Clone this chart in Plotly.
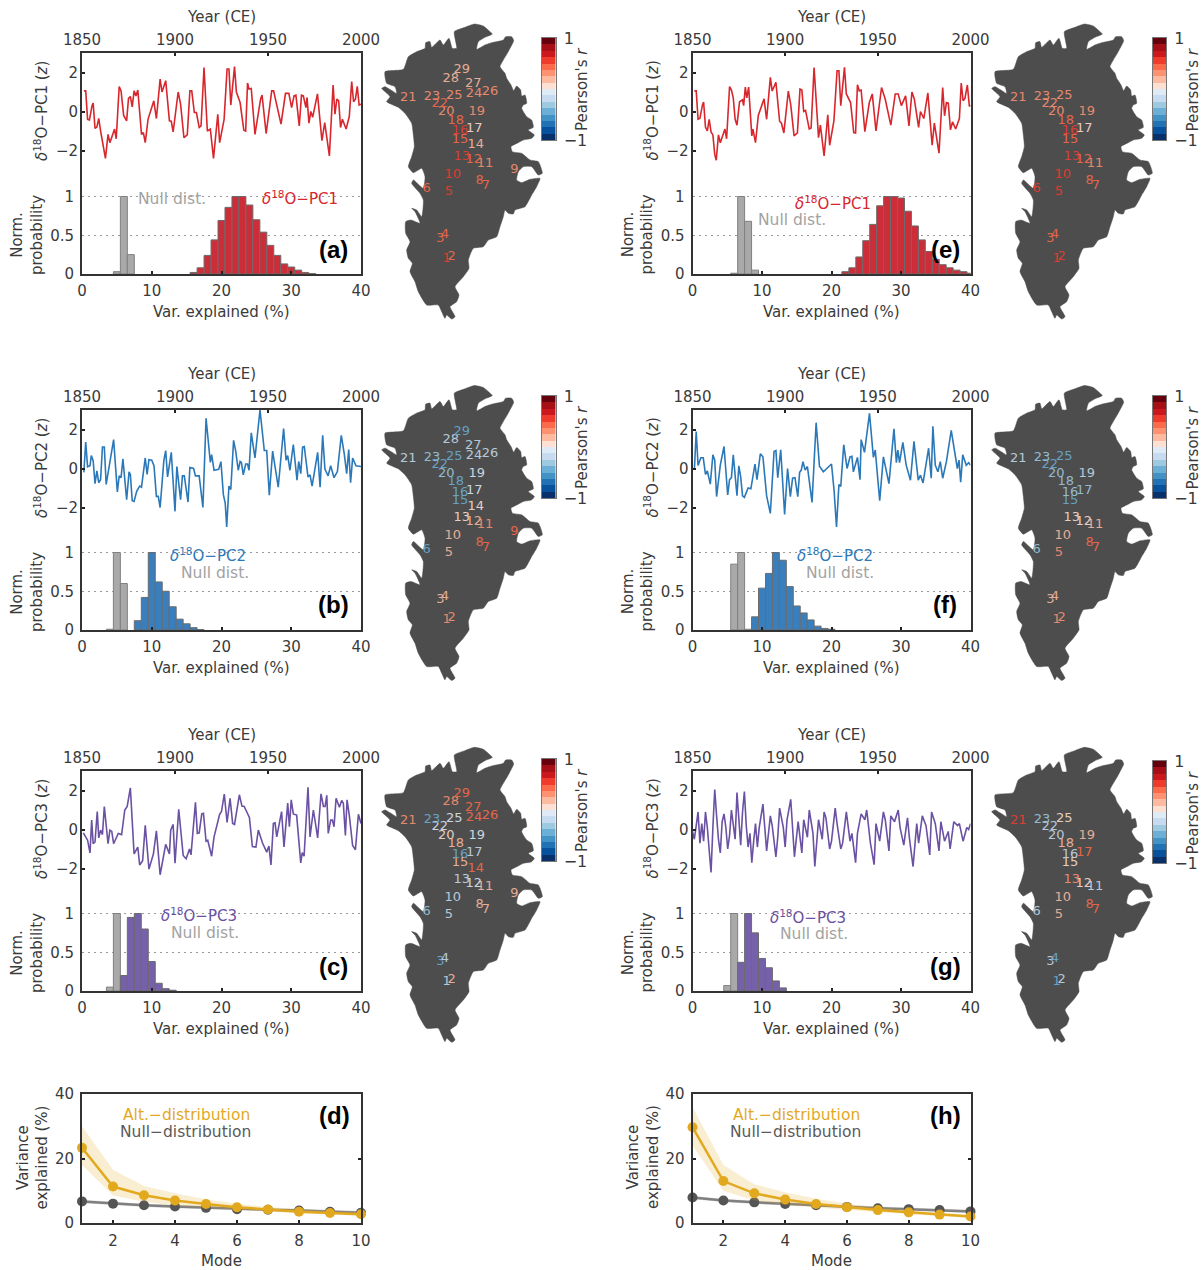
import plotly.graph_objects as go

W, H = 1202, 1270
FONT = "DejaVu Sans"
INK = "#3a3a3a"

YEARS_A = [1851,1852,1853,1854,1855.4,1856,1857,1858,1859,1860,1862.6,1864,1865,1867.5,1868.4,1870,1871,1872.4,1874,1875,1876,1877,1878,1879,1880,1882,1883,1884,1885.5,1888.6,1890,1892,1893,1895,1897,1898,1899,1901.7,1903,1904.8,1906.6,1908,1909,1910.4,1911.5,1913,1914,1915.6,1917.4,1919,1920.7,1923,1924,1926.4,1928,1929,1930,1932,1933,1935,1937,1938,1939,1939.8,1941,1943,1946,1946.8,1949,1952,1953,1954.5,1957,1959.4,1961.2,1962.7,1964,1965,1966.8,1968,1969,1970.4,1971,1972,1973,1974,1976.6,1979,1980.5,1983,1985,1986,1987,1988,1989,1990,1992,1993.7,1995,1996,1997,1998,1999,2000]
Z_A = [1.06,1.06,-.4,-.43,.3,.43,-.87,-.8,-.35,-1.0,-2.4,-1.17,-1.6,-.9,-1.4,1.28,1.05,-.2,-.48,.67,.77,.24,1.06,.8,1.1,-1.17,-1.08,-1.6,-.4,.55,-.36,1.66,1.0,1.58,-.48,-.5,-1.05,1.0,.38,-1.34,-1.2,1.06,1.06,-.05,-.05,-.82,-.74,2.26,-1.0,-.9,-2.4,-.14,-1.6,-.4,2.18,2.18,.33,2.3,1.0,.46,-.96,-1.0,1.46,1.15,1.18,-1.17,.63,.84,-1.13,1.06,1.06,.46,-.65,.93,.93,.2,.8,.84,-.74,.84,.8,.2,.72,-.6,0,-.3,.9,-1.5,-.57,-2.28,1.36,-.14,.63,.55,-.82,-.4,-.9,-.26,1.53,.5,.63,1.29,.33,.38]

YEARS_B = [1851,1852,1853,1854.3,1855,1856,1857,1858,1859,1860,1861,1862,1863,1865.4,1867,1869,1870,1871,1872,1874,1875.3,1876,1877,1878,1879.4,1881,1882,1884,1885,1886,1887.5,1888.7,1890,1891,1892,1894,1895,1896,1898,1900,1901,1903,1904,1905,1907,1908,1910,1911,1913,1915,1916.7,1919,1919.7,1921,1923.5,1924.7,1926,1927,1927.8,1929,1930,1931.5,1932.6,1934,1935,1935.7,1936.7,1938,1939,1939.8,1941,1943,1945.7,1948,1949.3,1950.7,1952.5,1955.5,1958.4,1959.7,1960.6,1961.8,1963.6,1965.6,1966.5,1967.6,1968.6,1969.5,1971.5,1972.6,1973.7,1976.7,1978,1979.4,1980.6,1982.3,1983.7,1985.5,1987.3,1989.4,1990.5,1991,1992.3,1993.4,1994.4,1995.5,1997.3,2000]
Z_B = [-.2,1.36,.09,.14,.66,.4,-.78,-.12,-.73,-.56,1.1,1.1,-.82,.49,1.48,-1.2,-.38,-.47,.49,-1.6,-.17,-.3,-1.65,-1.69,-1.17,-.9,-.96,.54,-.3,.45,.43,.14,-1.43,-1.43,-2.0,.4,.92,-.43,.83,-2.2,.1,-1.6,-.38,-.38,-1.72,.05,0,-.38,-.38,-2.0,2.57,.31,.71,-.09,-.04,.35,-1.34,-1.77,-3.0,-.9,-1.08,1.44,.92,-.09,.36,.31,-.33,.23,.23,-.09,1.83,.54,3.0,.92,.92,-1.37,.89,-.96,2.05,.43,.66,-.09,1.23,-.6,.36,-.26,1.1,1.13,-.43,-.33,-.9,.83,-.96,1.7,-.03,-.38,.14,-.47,-.16,1.7,.83,.75,-.26,.97,-.73,.54,.14,.1]

YEARS_C = [1850.7,1853,1854.3,1855.2,1856,1857,1858.2,1859,1860,1861,1862,1864,1865,1866,1867,1869.5,1871.3,1873,1874.3,1876,1878,1880,1881,1882.6,1884,1886,1888.4,1890,1892,1895,1897,1897.7,1899,1900,1902,1904.4,1906,1907.8,1908.6,1911,1912,1913,1914.4,1915.3,1916.7,1917.6,1919.7,1921,1924,1925,1926.5,1928,1929.6,1931,1932,1934.6,1936,1937.2,1940,1941.6,1943.5,1944.8,1947,1949.3,1950.5,1951.6,1952.9,1953.8,1954.7,1957.3,1958.6,1960.6,1961.5,1962.5,1963.6,1965.4,1967.6,1968.4,1969.4,1971.5,1972.6,1974.4,1976.7,1978.5,1979.8,1980.7,1981.6,1982.4,1983.7,1984.6,1985.5,1986.6,1988.4,1989.6,1990.5,1991.6,1992.5,1993.7,1995.5,1997,1998.6,2000]
Z_C = [-.17,-.55,-1.2,.48,-.73,-.64,.92,-.43,-.03,-.26,1.18,-.73,-.03,-.1,-.73,-.2,-.26,1.0,1.18,2.13,-1.25,-.9,-1.82,-1.6,.22,-2.03,-1.25,-.07,-2.32,-.76,-1.25,-.03,.26,-1.73,1.04,-1.33,-1.5,-1.0,-1.3,1.4,-.2,-.17,.8,.83,-.6,-.55,-1.37,-.38,.78,.92,1.82,.36,1.6,.31,.26,1.78,1.2,1.18,.62,-.87,-.9,-.03,-.68,-1.16,-.85,-1.82,.31,.34,-.38,.92,-.9,1.35,.14,1.52,.8,.74,-1.71,-1.19,-1.37,2.16,-.38,1.0,-.43,1.83,1.18,1.18,1.75,-.2,.48,.48,.14,1.6,1.14,1.49,1.35,-.3,1.52,.74,-.82,-1.04,.78,.31]

YEARS_E = [1851,1852,1853,1854,1855.4,1856,1857,1858,1859,1860,1861,1862,1862.8,1864,1865,1867.5,1868.4,1870,1871,1872,1873,1874,1875.4,1877,1877.6,1878.5,1879.3,1880.3,1882,1882.6,1884,1885.5,1888.6,1890,1892,1893,1895,1897,1898,1899.3,1901.7,1903,1904.8,1906.6,1908,1909,1910,1911,1913,1914,1915.6,1918,1919,1921,1923,1924,1926.3,1928,1929,1930,1932,1933,1935.3,1937,1938,1939,1940,1941,1943,1945.4,1947,1949,1952,1954,1957,1959.4,1961,1962.7,1965,1966.8,1968.4,1969.7,1972,1973,1974.8,1977,1979.3,1980.5,1983,1985,1986,1987,1988,1989.2,1990.3,1992,1994,1995,1996,1997,1998.3,1999.4,2000]
Z_E = [1.06,1.06,-.4,-.35,.35,.48,-.8,-1,-.4,-1.05,-1.2,-2.2,-2.5,-1.2,-1.6,-.9,-1.4,1.28,1.1,.7,-.4,-.7,.5,.6,.3,1.25,.7,1.25,-1.25,-.9,-1.6,-.2,.65,-.4,1.75,1.05,1.5,-.5,-.6,-1.1,1.05,.35,-1.25,-1.1,1.15,1.1,0,.05,-.9,-.85,2.26,-1.34,-.7,-2.28,-.17,-1.73,-.48,2.09,2.09,.3,2.26,.9,.46,-1.08,-1.1,1.37,1.06,1.1,-1.03,.46,.9,-1,1.23,.63,-.7,.9,.9,.3,.8,-.74,1,.63,-.82,0,-.36,.95,-1.73,-.6,-2.14,1.23,-.22,.46,.43,-.94,-.53,-.9,-.36,1.46,.55,.67,1.36,.26,.33]

YEARS_F = [1851,1852,1853,1854.5,1855.8,1857,1858,1859.6,1861,1862,1863,1865,1867,1869,1870,1871,1872,1874,1875,1876,1877,1878,1880,1881.5,1883.7,1884.8,1886.6,1888,1890,1892,1894,1895,1896,1897.6,1899.7,1901.3,1902.8,1904,1905.3,1906.8,1907.8,1908.7,1909.6,1910.8,1912,1914.5,1916.7,1918.5,1920.6,1925,1926.4,1927.7,1929,1930,1931.6,1933.4,1935,1936,1936.8,1939,1940.4,1941,1942.8,1945.5,1947.6,1948.6,1951,1953,1956,1958.7,1960,1960.8,1961.7,1963.5,1965.3,1967.6,1969.5,1971.8,1973,1974.4,1977.4,1978.8,1979.7,1981,1982.4,1983.7,1985,1987,1989.6,1991.4,1992.9,1993.8,1994.7,1995.8,1997.7,1999,2000]
Z_F = [-.08,1.9,.15,.55,.55,-.3,-.12,-.8,.7,.43,-1.44,.17,1.13,-1.36,-.57,-.47,.7,-1.4,.14,-.43,-1.4,-1.48,-1,-1.04,.23,-.57,.75,.6,-1.4,-2.3,.87,.92,-.47,.96,-2.35,0,-1.44,-.5,-.47,-1.44,-.2,-.08,.35,-.08,.1,-1.74,2.35,.12,-.17,.23,-1.13,-3,-.82,-.92,1.22,0,.6,.63,-.17,.57,-.57,1.48,.83,2.83,.57,.95,-1.65,.6,-.78,2.03,.3,.95,.3,1.34,.17,-.6,1.39,-.6,-.34,-.74,1.04,-.5,2.17,.17,-.17,.35,-.5,.35,1.96,.95,0,.43,-.7,.7,.17,.3,.17]

YEARS_G = [1850,1851,1852,1853,1854,1855,1856,1857,1858,1859,1860,1861,1862,1863,1864,1865,1866,1867,1868,1869,1870,1871,1872,1873,1874,1875,1876,1877,1878,1879,1880,1881,1882,1883,1884,1885,1886,1888,1889,1890,1892,1893,1895,1896,1897,1899,1900,1901,1903,1904,1905,1907,1908,1909,1910,1912,1913,1915,1916,1918,1920,1921,1922,1924,1925,1927,1928,1930,1931,1933,1935,1936,1938,1939,1941,1943,1944,1946,1948,1949,1951,1953,1954,1956,1957,1959,1961,1962,1964,1966,1967,1969,1971,1972,1974,1976,1978,1979,1981,1983,1984,1986,1988,1989,1991,1993,1994,1996,1998,1999,2000]
Z_G = [-.1,-.5,.2,.9,-.7,.3,-.6,.9,.1,-1.2,-2.2,.1,2.05,.7,-.5,-1.2,.4,.8,.1,-1.0,-.3,1.0,.3,-.5,1.9,.6,-.8,.9,1.95,.2,-.9,-.2,-1.7,-.6,.3,-.9,.1,1.3,.2,-1.1,.7,.2,-1.4,-.4,1.1,.1,-.9,.5,1.55,.2,-1.4,.4,-.3,-1.2,.5,-.4,1.0,-.2,-1.9,.5,-.5,.9,.6,-1.0,-.6,1.1,.3,-1.0,-.7,.9,-.6,-.2,-1.7,-.2,.8,.5,1.0,-.7,-1.8,.3,-.6,.9,.5,-1.1,.7,.4,1.0,.1,-.8,.6,-.4,-1.9,.3,-.7,.7,.2,-1.3,.9,.3,-1.1,.4,-.6,-.1,-1.0,.4,.2,.3,-.6,.1,.0,.3]

BINS_NULL_A, NULL_A = [5,6,7], [.03,1.0,.25]
BINS_ALT_A = [16,17,18,19,20,21,22,23,24,25,26,27,28,29,30,31,32,33]
ALT_A = [.02,.08,.24,.44,.69,.86,1.0,1.0,.89,.70,.54,.37,.24,.13,.09,.05,.02,.005]
BINS_NULL_B, NULL_B = [4,5,6], [.01,1.0,.6]
BINS_ALT_B = [8,9,10,11,12,13,14,15,16,17]
ALT_B = [.12,.42,1.0,.62,.5,.3,.14,.08,.03,.005]
BINS_NULL_C, NULL_C = [4,5,6], [.05,1.0,.02]
BINS_ALT_C = [6,7,8,9,10,11,12,13]
ALT_C = [.2,.95,1.0,.8,.38,.1,.03,.01]
BINS_NULL_E, NULL_E = [6,7,8,9], [.01,1.0,.68,.05]
BINS_ALT_E = [22,23,24,25,26,27,28,29,30,31,32,33,34,35,36,37,38,39,40]
ALT_E = [.03,.08,.22,.43,.64,.88,1.0,1.0,.98,.81,.62,.44,.29,.19,.12,.08,.05,.03,.01]
BINS_NULL_F, NULL_F = [6,7,8], [.85,1.0,.01]
BINS_ALT_F = [9,10,11,12,13,14,15,16,17,18,19,20]
ALT_F = [.17,.54,.73,1.0,.9,.56,.31,.22,.13,.05,.02,.01]
BINS_NULL_G, NULL_G = [5,6], [.07,1.0]
BINS_ALT_G = [7,8,9,10,11,12,13]
ALT_G = [.37,1.0,.75,.42,.3,.13,.04]

MODES = [1,2,3,4,5,6,7,8,9,10]
ALT_D = [23.3,11.3,8.6,7,5.9,4.9,4.2,3.5,3.1,2.7]
ALT_D_HI = [30,16.5,11.5,9.2,7.4,6,5,4.3,3.8,3.3]
ALT_D_LO = [18,8.5,6.6,5.4,4.7,4.1,3.5,3,2.6,2.2]
NULL_D = [6.7,6.0,5.5,5.1,4.7,4.3,4.1,3.9,3.5,3.2]
ALT_H = [29.7,13,9.2,7.3,5.9,4.9,4,3.3,2.6,2]
ALT_H_HI = [36,18,12,9.5,7.5,6,5,4,3.2,2.6]
ALT_H_LO = [24,10,7,5.6,4.8,4,3.3,2.7,2.1,1.6]
NULL_H = [7.9,7.0,6.4,5.9,5.5,5.0,4.6,4.3,4.0,3.6]

MAP_X = [298,325,345,352,330,310,305,330,350,385,392,410,416,405,397,385,375,390,395,408,416,425,437,440,450,455,445,440,455,470,475,460,478,470,445,430,408,412,440,465,490,502,490,470,445,430,425,440,465,495,485,470,450,420,415,400,390,385,375,365,340,325,295,280,282,265,240,252,245,225,240,230,215,210,200,190,155,130,120,105,112,100,95,105,92,92,108,135,120,110,125,140,145,135,110,115,145,150,140,115,100,110,118,115,110,90,70,35,45,20,30,65,60,35,30,85,100,125,150,152,165,170,195,205,222,232,245,238,270,298]
MAP_Y = [12,18,35,42,52,65,88,75,68,60,50,50,62,85,100,120,140,160,175,195,212,198,210,228,225,250,255,265,290,300,322,330,345,355,360,368,380,395,400,420,425,460,465,440,440,455,480,488,478,475,500,525,560,570,582,580,570,590,620,650,660,680,685,720,745,770,800,825,845,860,890,897,885,895,875,855,855,815,785,755,730,715,690,665,640,605,600,610,575,565,570,590,540,520,490,480,505,470,445,458,440,410,380,345,310,280,262,245,230,205,200,220,200,190,155,148,110,95,85,68,65,82,60,75,55,85,85,35,22,12]

SITE_ID = list(range(1, 30))
SITE_X = [215,230,196,210,222,155,333,314,418,233,330,296,260,302,255,255,298,242,305,214,100,194,171,297,238,345,295,227,260]
SITE_Y = [715,710,655,645,515,505,498,483,450,463,430,420,410,375,358,333,327,302,276,276,232,251,230,222,226,216,192,175,150]

R_A = [.5,.45,.42,.42,.6,.45,.42,.45,.35,.6,.3,.45,.5,.13,.4,.5,.1,.45,.3,.35,.3,.4,.35,.25,.3,.3,.2,.18,.18]
R_B = [.35,.35,.2,.2,.2,-.4,.42,.4,.45,.22,.3,.15,.1,.1,-.4,-.4,-.1,-.4,-.1,-.35,-.2,-.4,-.35,-.15,-.4,-.15,-.2,-.15,-.4]
R_C = [-.15,.15,-.4,-.15,-.15,-.35,.2,.2,.2,-.15,.15,-.1,-.15,.4,.2,-.4,-.2,.2,-.1,.1,.32,-.1,-.4,.42,-.1,.42,.42,.35,.42]
R_E = {1:.5,2:.5,3:.42,4:.42,5:.6,6:.5,7:.45,8:.45,10:.6,11:.3,12:.45,13:.5,15:.4,16:.5,17:.1,18:.4,19:.25,20:.3,21:.3,22:.35,23:.35,25:.3}
R_F = {1:.35,2:.35,3:.2,4:.2,5:.35,6:-.35,7:.42,8:.38,10:.22,11:.15,12:.1,13:.1,15:-.4,16:-.35,17:-.35,18:-.35,19:-.2,20:-.35,21:-.2,22:-.4,23:-.35,25:-.4}
R_G = {1:-.4,2:-.15,3:-.2,4:-.4,5:.2,6:-.2,7:.4,8:.38,10:.2,11:-.15,12:.1,13:.35,15:.1,16:-.15,17:.4,18:.2,19:.2,20:-.15,21:.52,22:-.2,23:-.35,25:.1}

R_PALETTE = ["#08306b","#08519c","#2171b5","#4292c6","#6baed6","#9ecae1","#c6dbef","#deebf7",
             "#fee0d2","#fcbba1","#fc9272","#fb6a4a","#ef3b2c","#cb181d","#a50f15","#67000d"]
R_LEVELS = [-.9375,-.8125,-.6875,-.5625,-.4375,-.3125,-.1875,-.0625,.0625,.1875,.3125,.4375,.5625,.6875,.8125,.9375]

RED, BLUE, PURPLE = "#d8262d", "#2b78b8", "#6a51a3"
RED_F, BLUE_F, PURPLE_F = "#cc2d38", "#3a7fbd", "#7660ab"
GOLD = "#e2a91f"

fig = go.Figure()
layout = dict(template="none", width=W, height=H, margin=dict(l=0, r=0, t=0, b=0, pad=0), autosize=False,
              paper_bgcolor="white", plot_bgcolor="rgba(0,0,0,0)", showlegend=False,
              barmode="overlay", font=dict(family=FONT, size=15, color=INK))
annots = []
_n = [0]

def new_axes():
    _n[0] += 1
    n = _n[0]
    return ("x" if n == 1 else f"x{n}"), ("y" if n == 1 else f"y{n}"), ("xaxis" if n == 1 else f"xaxis{n}"), ("yaxis" if n == 1 else f"yaxis{n}")

def domx(a, b):
    return [a / W, b / W]

def domy(top, bottom):
    return [1 - bottom / H, 1 - top / H]

def note(px, py, text, size=15, color=INK, angle=0, family=FONT):
    annots.append(dict(x=px / W, y=1 - py / H, xref="paper", yref="paper", text=text, showarrow=False,
                       textangle=angle, xanchor="center", yanchor="middle",
                       font=dict(size=size, color=color, family=family)))

def site_colour(r):
    i = min(15, max(0, int((r + 1) * 8)))
    c = R_PALETTE[i]
    rgb = [int(c[k:k + 2], 16) for k in (1, 3, 5)]
    return "rgb(%d,%d,%d)" % tuple(round(v * .87 + 77 * .13) for v in rgb)

def panel(x0, x1, top, bottom, years, zs, line_col, bins_null, null, bins_alt, alt, alt_fill,
          pc_name, letter, pc_lab, null_lab, letter_pos):
    xh, yh, xn, yn = new_axes()
    fig.add_trace(go.Bar(x=bins_null, y=null, width=1, marker=dict(color="#a9a9a9", line=dict(color="#808080", width=1)), xaxis=xh, yaxis=yh))
    fig.add_trace(go.Bar(x=bins_alt, y=alt, width=1, marker=dict(color=alt_fill, line=dict(color="#6b6b6b", width=1)), xaxis=xh, yaxis=yh))
    layout[xn] = dict(domain=domx(x0, x1), range=[0, 40], anchor=yh, side="bottom", tickvals=[0, 10, 20, 30, 40],
                      ticks="inside", ticklen=3, tickcolor="#222", tickwidth=1.5, showline=True, linecolor="#333", linewidth=2,
                      mirror=True, showgrid=False, zeroline=False, automargin=False, ticklabelstandoff=2)
    layout[yn] = dict(domain=domy(top, bottom), range=[0, (bottom - top) / 77.5], anchor=xh, side="left", tickvals=[0, .5, 1],
                      ticktext=["0", "0.5", "1"], ticks="", showline=True, linecolor="#333", linewidth=2, mirror=True,
                      showgrid=True, gridcolor="#9a9a9a", griddash="2px,4px", gridwidth=1, zeroline=False, automargin=False,
                      ticklabelstandoff=3)
    xl, yl, xln, yln = new_axes()
    fig.add_trace(go.Scatter(x=years, y=zs, mode="lines", line=dict(color=line_col, width=1.6), xaxis=xl, yaxis=yl))
    layout[xln] = dict(domain=domx(x0, x1), range=[1850, 2000], anchor=yl, side="top", tickvals=[1850, 1900, 1950, 2000],
                       ticks="inside", ticklen=3, tickcolor="#222", tickwidth=1.5, showgrid=False, zeroline=False, showline=False,
                       automargin=False, ticklabelstandoff=4)
    layout[yln] = dict(domain=domy(top, bottom), range=[3.0 - (bottom - top) / 19.5, 3.0], anchor=xl, side="left",
                       tickvals=[-2, 0, 2], ticktext=["\u22122", "0", "2"], ticks="inside", ticklen=3, tickcolor="#222", tickwidth=1.5,
                       showgrid=False, zeroline=False, showline=False, automargin=False, ticklabelstandoff=3)
    cx = (x0 + x1) / 2
    note(cx, top - 36, "Year (CE)")
    note(cx, bottom + 38, "Var. explained (%)")
    note(x0 - 41, top + 58, f"<i>\u03b4</i><sup>18</sup>O\u2212{pc_name} (<i>z</i>)", angle=-90)
    note(x0 - 55, top + 182, "Norm.<br>probability", angle=-90)
    note(pc_lab[0], pc_lab[1], f"<i>\u03b4</i><sup>18</sup>O\u2212{pc_name}", size=15, color=line_col)
    note(null_lab[0], null_lab[1], "Null dist.", size=15.5, color="#a3a3a3")
    note(letter_pos[0], letter_pos[1] - 2, f"<b>({letter})</b>", size=24, color="#000", family="Liberation Sans")

def greenland(ox, oy, rs, cb_x, cb_top):
    xm, ym, xmn, ymn = new_axes()
    fig.add_trace(go.Scatter(x=MAP_X, y=MAP_Y, mode="lines", fill="toself", fillcolor="#4d4d4d",
                             line=dict(color="#4d4d4d", width=0.5, shape="spline", smoothing=0.5), xaxis=xm, yaxis=ym))
    ids = [i for i in SITE_ID if i in rs]
    fig.add_trace(go.Scatter(x=[SITE_X[i - 1] for i in ids], y=[SITE_Y[i - 1] for i in ids], mode="text",
                             text=[str(i) for i in ids], textposition="middle center",
                             textfont=dict(family=FONT, size=13, color=[site_colour(rs[i]) for i in ids]),
                             xaxis=xm, yaxis=ym))
    layout[xmn] = dict(domain=domx(ox, ox + 200), range=[0, 600], anchor=ym, visible=False, automargin=False)
    layout[ymn] = dict(domain=domy(oy, oy + 310), range=[930, 0], anchor=xm, visible=False, automargin=False)
    xc, yc, xcn, ycn = new_axes()
    fig.add_trace(go.Heatmap(z=[[v] for v in R_LEVELS], y=R_LEVELS, x=[0], zmin=-1, zmax=1, showscale=False,
                             colorscale=[[(i + s) / 16, c] for i, c in enumerate(R_PALETTE) for s in (0, 1)],
                             xaxis=xc, yaxis=yc))
    layout[xcn] = dict(domain=domx(cb_x, cb_x + 13.5), range=[-.5, .5], anchor=yc, showticklabels=False, ticks="",
                       showgrid=False, zeroline=False, showline=True, linecolor="#777", linewidth=1, mirror=True, automargin=False)
    layout[ycn] = dict(domain=domy(cb_top, cb_top + 102), range=[-1, 1], anchor=xc, side="right", tickvals=[-1, 1],
                       ticktext=["\u22121", "1"], ticks="", showgrid=False, zeroline=False, showline=True,
                       linecolor="#777", linewidth=1, mirror=True, tickfont=dict(size=16), automargin=False, ticklabelstandoff=4)
    note(cb_x + 40, cb_top + 52, "Pearson's <i>r</i>", size=15, angle=-90)

def modes(x0, x1, top, bottom, alt, hi, lo, nul, letter, letter_pos):
    xd, yd, xdn, ydn = new_axes()
    fig.add_trace(go.Scatter(x=MODES + MODES[::-1], y=[v + .5 for v in nul] + [v - .5 for v in nul[::-1]], mode="lines", fill="toself",
                             fillcolor="rgba(90,90,90,0.2)", line=dict(width=0), xaxis=xd, yaxis=yd))
    fig.add_trace(go.Scatter(x=MODES, y=nul, mode="lines+markers", line=dict(color="#808080", width=2.5),
                             marker=dict(color="#555", size=10), xaxis=xd, yaxis=yd, cliponaxis=False))
    fig.add_trace(go.Scatter(x=MODES + MODES[::-1], y=hi + lo[::-1], mode="lines", fill="toself",
                             fillcolor="rgba(226,169,31,0.2)", line=dict(width=0), xaxis=xd, yaxis=yd))
    fig.add_trace(go.Scatter(x=MODES, y=alt, mode="lines+markers", line=dict(color=GOLD, width=2.5),
                             marker=dict(color=GOLD, size=10), xaxis=xd, yaxis=yd, cliponaxis=False))
    layout[xdn] = dict(domain=domx(x0, x1), range=[1, 10], anchor=yd, tickvals=[2, 4, 6, 8, 10], ticks="inside", ticklen=3,
                       tickcolor="#222", tickwidth=1.5, showline=True, linecolor="#333", linewidth=2, mirror=True,
                       showgrid=False, zeroline=False, automargin=False, ticklabelstandoff=3)
    layout[ydn] = dict(domain=domy(top, bottom), range=[0, 40], anchor=xd, tickvals=[0, 20, 40], ticks="inside", ticklen=3,
                       tickcolor="#222", tickwidth=1.5, showline=True, linecolor="#333", linewidth=2, mirror="ticks",
                       showgrid=False, zeroline=False, automargin=False, ticklabelstandoff=3)
    note((x0 + x1) / 2, bottom + 38, "Mode")
    note(x0 - 50, (top + bottom) / 2 - 1, "Variance<br>explained (%)", angle=-90)
    note(x0 + 104, top + 21, "Alt.\u2212distribution", size=15.5, color=GOLD)
    note(x0 + 103, top + 38, "Null\u2212distribution", size=15.5, color="#5a5a5a")
    note(letter_pos[0], letter_pos[1], f"<b>({letter})</b>", size=24, color="#000", family="Liberation Sans")

LX0, LX1, RX0, RX1 = 82, 361, 692.5, 970.5
panel(LX0, LX1, 53, 274, YEARS_A, Z_A, RED, BINS_NULL_A, NULL_A, BINS_ALT_A, ALT_A, RED_F, "PC1", "a", (300, 198), (172, 199), (334, 252))
panel(LX0, LX1, 410, 630, YEARS_B, Z_B, BLUE, BINS_NULL_B, NULL_B, BINS_ALT_B, ALT_B, BLUE_F, "PC2", "b", (208, 555), (215, 573), (334, 606))
panel(LX0, LX1, 771, 991, YEARS_C, Z_C, PURPLE, BINS_NULL_C, NULL_C, BINS_ALT_C, ALT_C, PURPLE_F, "PC3", "c", (199, 915), (205, 933), (334, 968))
panel(RX0, RX1, 53, 274, YEARS_E, Z_E, RED, BINS_NULL_E, NULL_E, BINS_ALT_E, ALT_E, RED_F, "PC1", "e", (833, 203), (792, 220), (945, 252))
panel(RX0, RX1, 410, 630, YEARS_F, Z_F, BLUE, BINS_NULL_F, NULL_F, BINS_ALT_F, ALT_F, BLUE_F, "PC2", "f", (835, 555), (840, 573), (945, 606))
panel(RX0, RX1, 771, 991, YEARS_G, Z_G, PURPLE, BINS_NULL_G, NULL_G, BINS_ALT_G, ALT_G, PURPLE_F, "PC3", "g", (808, 917), (814, 934), (945, 968))

greenland(375, 20, dict(zip(SITE_ID, R_A)), 542, 38)
greenland(375, 381.5, dict(zip(SITE_ID, R_B)), 542, 396)
greenland(375, 743.3, dict(zip(SITE_ID, R_C)), 542, 759)
greenland(985, 20, R_E, 1152.5, 38)
greenland(985, 381.5, R_F, 1152.5, 396)
greenland(985, 743.3, R_G, 1152.5, 761)

modes(LX0, LX1, 1094, 1223, ALT_D, ALT_D_HI, ALT_D_LO, NULL_D, "d", (335, 1115))
modes(RX0, RX1, 1094, 1223, ALT_H, ALT_H_HI, ALT_H_LO, NULL_H, "h", (945, 1115))

layout["annotations"] = annots
fig.update_layout(**layout)
fig.write_html("out.html", config={"displayModeBar": False},
               post_script="document.body.style.margin='0';document.documentElement.style.overflow='hidden';")
